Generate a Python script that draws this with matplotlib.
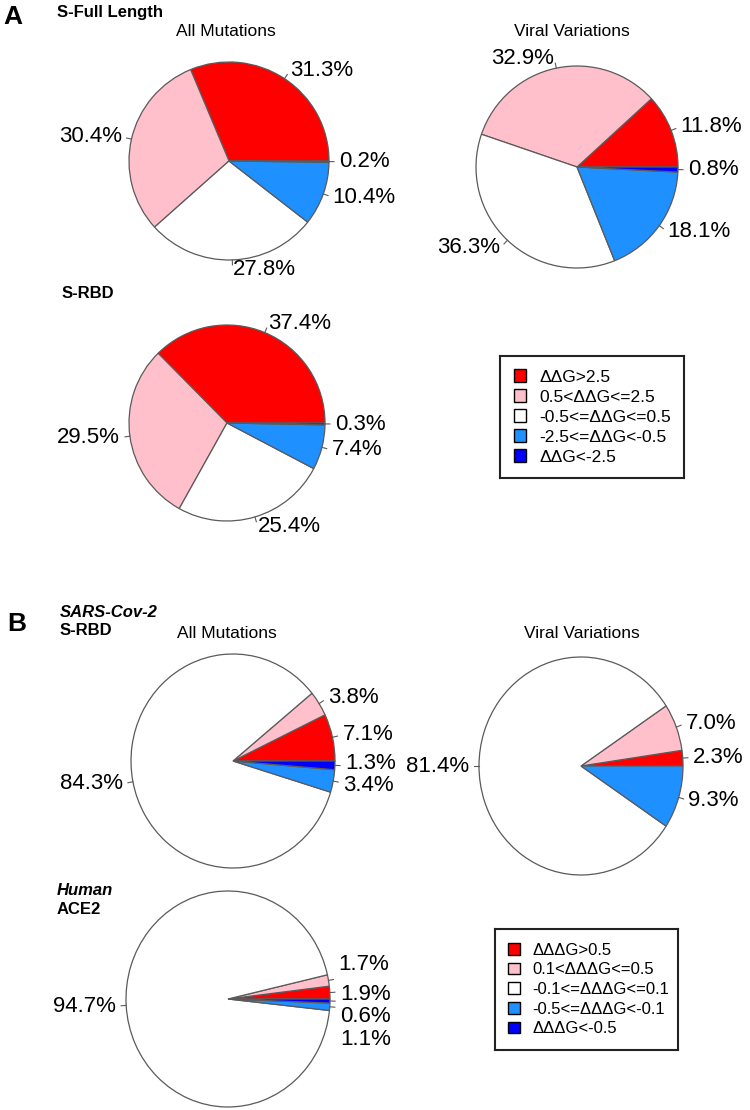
import numpy as np
import matplotlib
matplotlib.use("Agg")
import matplotlib.pyplot as plt
from matplotlib.patches import Patch

plt.rcParams['font.family'] = ['Liberation Sans', 'DejaVu Sans']

# slice order (counter-clockwise from 3 o'clock, as in R's pie)
colors = ['#FF0000', '#FFC0CB', '#FFFFFF', '#1E90FF', '#0000FF']

legend_a = ['ΔΔG>2.5', '0.5<ΔΔG<=2.5', '-0.5<=ΔΔG<=0.5',
            '-2.5<=ΔΔG<-0.5', 'ΔΔG<-2.5']
legend_b = ['ΔΔΔG>0.5', '0.1<ΔΔΔG<=0.5', '-0.1<=ΔΔΔG<=0.1',
            '-0.5<=ΔΔΔG<-0.1', 'ΔΔΔG<-0.5']

full_all = [31.3, 30.4, 27.8, 10.4, 0.2]
full_viral = [11.8, 32.9, 36.3, 18.1, 0.8]
rbd_all = [37.4, 29.5, 25.4, 7.4, 0.3]
sars_all = [7.1, 3.8, 84.3, 3.4, 1.3]
sars_viral = [2.3, 7.0, 81.4, 9.3, 0.0]
ace2_all = [1.9, 1.7, 94.7, 1.1, 0.6]

W, H = 750, 1110
fig = plt.figure(figsize=(W / 100, H / 100), dpi=100)


def fx(x):
    return x / W


def fy(y):
    return 1 - y / H


def draw_pie(vals, cx, cy, rx, ry, nudge=None):
    ax = fig.add_axes([fx(cx - rx), fy(cy + ry), 2 * rx / W, 2 * ry / H])
    keep = [i for i, v in enumerate(vals) if v > 0]
    v = [vals[i] for i in keep]
    c = [colors[i] for i in keep]
    ax.pie(v, colors=c, startangle=0, counterclock=True, radius=1,
           wedgeprops=dict(edgecolor='#5a5a5a', linewidth=0.9))
    ax.set_aspect('auto')
    ax.set_xlim(-1, 1)
    ax.set_ylim(-1, 1)
    ax.axis('off')
    tot = sum(v)
    cum = np.cumsum([0] + v)
    for k, val in enumerate(v):
        a = np.deg2rad((cum[k] + val / 2) / tot * 360)
        ca, sa = np.cos(a), np.sin(a)
        ax.plot([ca, 1.05 * ca], [sa, 1.05 * sa], color='#5a5a5a', lw=0.8,
                clip_on=False)
        dy = 0 if nudge is None else nudge[keep[k]]
        ax.annotate(f'{val:.1f}%', (1.1 * ca, 1.1 * sa), xytext=(0, -dy),
                    textcoords='offset points', fontsize=16,
                    ha='left' if ca >= 0 else 'right', va='center',
                    annotation_clip=False)
    return ax


def draw_legend(labels, x0, y0, x1, y1, size):
    ax = fig.add_axes([fx(x0), fy(y1), (x1 - x0) / W, (y1 - y0) / H])
    ax.set_xticks([])
    ax.set_yticks([])
    for s in ax.spines.values():
        s.set_linewidth(1.5)
        s.set_color('#222222')
    handles = [Patch(facecolor=c, edgecolor='black', linewidth=1.0)
               for c in colors]
    ax.legend(handles, labels, loc='center left', bbox_to_anchor=(0, 0.5),
              frameon=False, fontsize=size, handlelength=0.7,
              handleheight=0.7, handletextpad=0.75, labelspacing=0.28,
              borderpad=0, borderaxespad=0.8)


# ---- panel A ----
fig.text(fx(3), fy(24), 'A', fontsize=19, fontweight='bold')
fig.text(fx(57), fy(17), 'S-Full Length', fontsize=12, fontweight='bold')
fig.text(fx(226), fy(36), 'All Mutations', fontsize=12.5, ha='center')
fig.text(fx(572), fy(36), 'Viral Variations', fontsize=12.5, ha='center')
fig.text(fx(62), fy(298), 'S-RBD', fontsize=12, fontweight='bold')

draw_pie(full_all, 229, 161, 100, 99)
draw_pie(full_viral, 577, 167, 101, 101)
draw_pie(rbd_all, 227, 423, 98, 98)
draw_legend(legend_a, 500, 356, 684, 478, 12.5)

# ---- panel B ----
fig.text(fx(7), fy(631), 'B', fontsize=19, fontweight='bold')
fig.text(fx(60), fy(617), 'SARS-Cov-2', fontsize=12, fontweight='bold',
         style='italic')
fig.text(fx(60), fy(635), 'S-RBD', fontsize=12, fontweight='bold')
fig.text(fx(227), fy(638), 'All Mutations', fontsize=12.5, ha='center')
fig.text(fx(582), fy(638), 'Viral Variations', fontsize=12.5, ha='center')
fig.text(fx(57), fy(895), 'Human', fontsize=12, fontweight='bold',
         style='italic')
fig.text(fx(57), fy(914), 'ACE2', fontsize=12, fontweight='bold')

# the small slice labels are spread apart a little, as in the original
draw_pie(sars_all, 233, 761, 102, 107, nudge=[0, 0, 0, 2, -2])
draw_pie(sars_viral, 581, 766, 102, 109)
draw_pie(ace2_all, 228, 999, 102, 108, nudge=[2, -10, 0, 23, 11])
draw_legend(legend_b, 495, 929, 678, 1050, 12)

fig.savefig('out.png', dpi=100)
